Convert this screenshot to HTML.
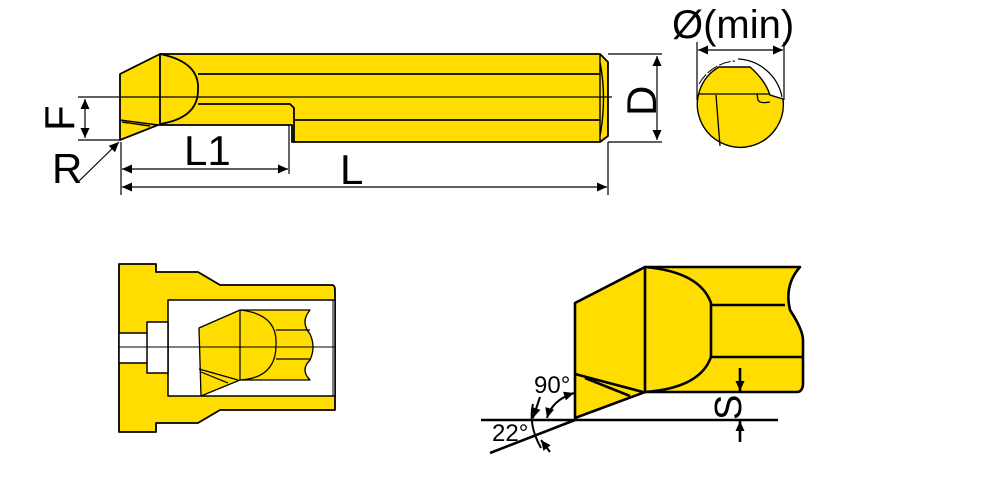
<!DOCTYPE html>
<html><head><meta charset="utf-8"><style>html,body{margin:0;padding:0;background:#fff}svg{display:block}</style></head>
<body>
<svg width="1000" height="500" viewBox="0 0 1000 500" xmlns="http://www.w3.org/2000/svg" font-family="DejaVu Sans, Liberation Sans, sans-serif">
<defs>
<marker id="a" viewBox="0 0 10 10" refX="10" refY="5" markerWidth="18" markerHeight="10" markerUnits="userSpaceOnUse" orient="auto-start-reverse"><path d="M0,0.5 L10,5 L0,9.5 z" fill="#000"/></marker>
</defs>
<g stroke="#000" stroke-width="1.8" fill="#FFDD00" stroke-linejoin="round">
<path d="M120,74 L160,54 L600,54 L608,62 L608,136 L600,142 L292,142 L292,125 L158,125 L120,140 Z"/>
<path d="M160,54 L160,124" fill="none"/>
<path d="M160,54 Q200,62 198,90 Q198,118 160,124" fill="none"/>
<path d="M198,74 L600,74 M198,104 L290,104 L294,108 L294,142 M295,120 L600,120" fill="none"/>
<path d="M600,54 L600,142 M600,62 Q607,98 600,136" fill="none" stroke-width="1.4"/>
<path d="M120,120 L158,125 M122,122 L150,126" fill="none" stroke-width="1.4"/>
</g>
<g stroke="#000" stroke-width="1.2" fill="none">
<path d="M78,97 L612,97 M78,140 L120,140"/>
<path d="M85,99 L85,138" marker-start="url(#a)" marker-end="url(#a)"/>
<path d="M608,54 L662,54 M608,142 L662,142"/>
<path d="M657,56 L657,140" marker-start="url(#a)" marker-end="url(#a)"/>
<path d="M121,142 L121,195 M289,125 L289,174 M608,142 L608,195"/>
<path d="M122,169 L288,169" marker-start="url(#a)" marker-end="url(#a)"/>
<path d="M122,187 L607,187" marker-start="url(#a)" marker-end="url(#a)"/>
<path d="M77,183 L119,142" marker-end="url(#a)"/>
<path d="M697,42 L697,100 M784,42 L784,100"/>
<path d="M698,50 L783,50" marker-start="url(#a)" marker-end="url(#a)"/>
</g>
<g font-size="42" fill="#000" font-family="Liberation Sans, sans-serif">
<text x="0" y="0" transform="translate(74,131) rotate(-90)">F</text>
<text x="52" y="183">R</text>
<text x="184" y="165">L1</text>
<text x="340" y="184">L</text>
<text x="672" y="38" font-size="40">Ø(min)</text>
<text x="0" y="0" transform="translate(656,116) rotate(-90)">D</text>
</g>
<!-- end view -->
<path d="M699,84 A45,45 0 0,1 735,61" fill="none" stroke="#000" stroke-width="1" stroke-dasharray="12,2"/>
<path d="M738,59 A47,47 0 0,1 782,97" fill="none" stroke="#000" stroke-width="1.2"/>
<path d="M719,67 L750,67 Q765,80 770,95 L783,99 A43,43 0 1,1 719,67 Z" fill="#FFDD00" stroke="#000" stroke-width="1.4"/>
<path d="M699,94 L770,94 M716,95 L720,146 M757,94 L758,100 Q760,104 770,102" fill="none" stroke="#000" stroke-width="1.3"/>
<!-- bottom left -->
<g stroke="#000" stroke-width="1.8" fill="#FFDD00" stroke-linejoin="round">
<path d="M119,264 L156,264 L156,272 L198,272 L220,285 L332,285 Q335,285 335,290 L335,410 L220,410 L198,423 L156,423 L156,432 L119,432 Z"/>
<path d="M168,300 L335,300 L335,396 L168,396 Z" fill="#fff" stroke-width="1.5"/>
<path d="M147,322 L168,322 L168,373 L147,373 Z M119,333 L147,333 L147,363 L119,363 Z" fill="#fff" stroke-width="1.5"/>
<path d="M240,310 L310,310 Q300,322 310,334 Q316,347 310,360 Q300,370 310,380 L240,380 L201,396 L199,328 Z" stroke-width="1.3"/>
<path d="M240,310 L240,380 M240,310 Q278,314 276,345 Q276,378 240,380 M276,330 L310,330 M276,359 L310,359 M199,369 L238,380 M201,372 L228,383" fill="none" stroke-width="1.2"/>
</g>
<path d="M119,347 L335,347" stroke="#000" stroke-width="1"/>
<path d="M333,300 L333,396" stroke="#000" stroke-width="1"/>
<!-- bottom right -->
<g stroke="#000" stroke-width="2.6" fill="#FFDD00" stroke-linejoin="round">
<path d="M575,303 L645,267 L800,267 Q784,285 790,310 Q803,330 803,340 L803,385 Q802,392 797,392 L645,392 L575,418 Z"/>
<path d="M645,267 L645,392 M645,267 Q700,272 711,303 L711,357 Q700,388 645,392 M711,305 L785,305 M711,357 L803,357 M575,374 L643,392 M585,378 L630,396" fill="none"/>
</g>
<g stroke="#000" stroke-width="2.6" fill="none">
<path d="M481,420 L778,420 M490,453 L575,420"/>
<path d="M740,368 L740,391" marker-end="url(#a)"/>
<path d="M740,442 L740,421" marker-end="url(#a)"/>
<path d="M533,404 Q528,425 541,448" stroke-width="2"/>
<path d="M540,397 L533,418" marker-end="url(#a)" stroke-width="2"/>
<path d="M547,418 Q552,400 574,393" marker-start="url(#a)" marker-end="url(#a)" stroke-width="2"/>
<path d="M550,452 L541,440" marker-end="url(#a)" stroke-width="2"/>
</g>
<g font-size="24" fill="#000" font-family="Liberation Sans, sans-serif">
<text x="534" y="393">90°</text>
<text x="492" y="441">22°</text>
<text x="0" y="0" font-size="38" transform="translate(741,420) rotate(-90)">S</text>
</g>
</svg>
</body></html>
